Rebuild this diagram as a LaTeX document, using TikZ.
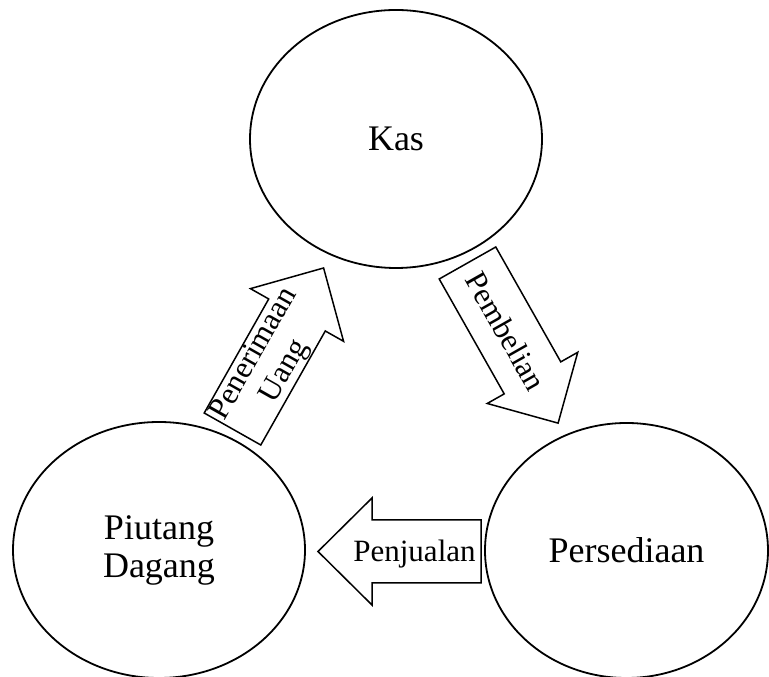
\documentclass[tikz,border=0pt]{standalone}
\usepackage{fontspec}
\setmainfont{Liberation Serif}
\usetikzlibrary{shapes.geometric}
\tikzset{
  acct/.style={ellipse, draw, line width=1.8pt, inner sep=0pt, align=center,
    font=\fontsize{36}{38}\selectfont},
  flowarrow/.style={draw, line width=1.5pt, line join=miter},
  arrowtext/.style={inner sep=0pt, align=center, font=\fontsize{31}{35}\selectfont}
}
\begin{document}
\begin{tikzpicture}[x=1pt, y=1pt]
\useasboundingbox (0,0) rectangle (769,677);

% accounts
\node[acct, minimum width=292pt, minimum height=258pt] (kas) at (396,538) {Kas};
\node[acct, minimum width=292pt, minimum height=256pt] (piutang) at (159,127) {Piutang\\Dagang};
\node[acct, minimum width=283pt, minimum height=255pt] (persediaan) at (626.5,126.5) {Persediaan};

% Penerimaan Uang (Piutang -> Kas)
\begin{scope}[shift={(232.5,248)}, rotate=60.5]
  \draw[flowarrow] (0,-32.5) -- (131,-32.5) -- (131,-53.5) -- (185,0) -- (131,53.5) -- (131,32.5) -- (0,32.5) -- cycle;
  \node[arrowtext, rotate=60.5] (terima) at (76,0) {Penerimaan\\Uang};
\end{scope}

% Pembelian (Kas -> Persediaan)
\begin{scope}[shift={(467.5,414)}, rotate=-60.5]
  \draw[flowarrow] (0,-32.5) -- (132,-32.5) -- (132,-52) -- (184,0) -- (132,52) -- (132,32.5) -- (0,32.5) -- cycle;
  \node[arrowtext, rotate=-60.5] (beli) at (78,0) {Pembelian};
\end{scope}

% Penjualan (Persediaan -> Piutang)
\begin{scope}[shift={(481,125.5)}, rotate=180]
  \draw[flowarrow] (0,-31.5) -- (109,-31.5) -- (109,-53.5) -- (163,0) -- (109,53.5) -- (109,31.5) -- (0,31.5) -- cycle;
\end{scope}
\node[arrowtext, anchor=base] (jual) at (414.5,115) {Penjualan};
\end{tikzpicture}
\end{document}
